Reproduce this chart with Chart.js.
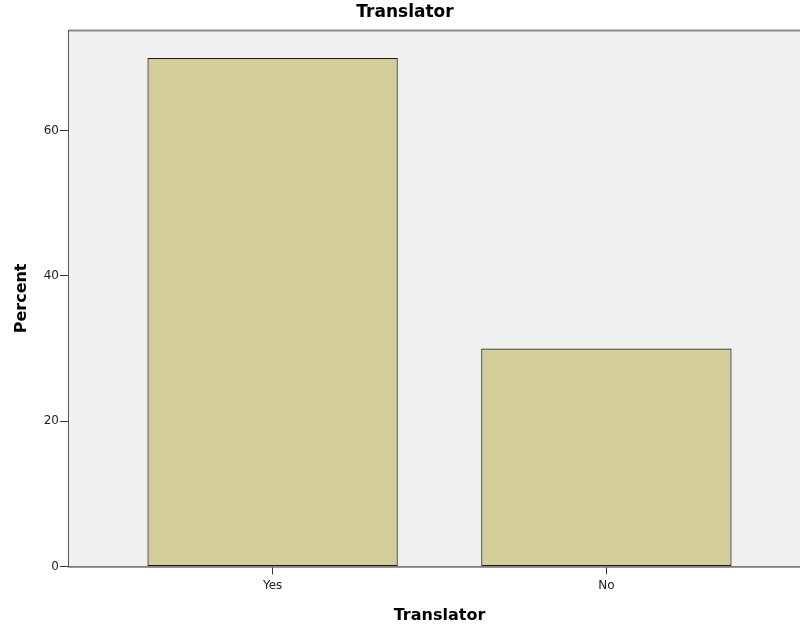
<!DOCTYPE html>
<html>
<head>
<meta charset="utf-8">
<script src="https://cdn.jsdelivr.net/npm/chart.js@4/dist/chart.umd.min.js"></script>
<style>
  html, body { margin: 0; padding: 0; background: #fff; width: 800px; height: 632px; overflow: hidden; }
  #wrap { width: 810px; height: 632px; position: relative; }
</style>
</head>
<body>
<div id="wrap"><canvas id="chart"></canvas></div>
<script>
const categories = ["Yes", "No"];
const percents = [70, 30];
const yTicks = [0, 20, 40, 60];

// plot background + top frame like the SPSS chart
const plotFrame = {
  id: "plotFrame",
  beforeDatasetsDraw(chart) {
    const { ctx, chartArea: a } = chart;
    ctx.save();
    ctx.fillStyle = "#f0f0f0";
    ctx.fillRect(a.left, a.top, a.right - a.left, a.bottom - a.top);
    ctx.strokeStyle = "#8a8a8a";
    ctx.lineWidth = 2;
    ctx.beginPath();
    ctx.moveTo(a.left, a.top);
    ctx.lineTo(a.right, a.top);
    ctx.stroke();
    ctx.restore();
  },
};

new Chart(document.getElementById("chart"), {
  type: "bar",
  data: {
    datasets: [
      {
        data: categories.map((c, i) => ({ x: i + 1, y: percents[i] })),
        backgroundColor: "#d3ce97",
        borderColor: "#1e1e1e",
        borderWidth: 1.2,
        borderSkipped: false,
        barPercentage: 0.75,
        categoryPercentage: 1,
      },
    ],
  },
  options: {
    responsive: true,
    maintainAspectRatio: false,
    animation: false,
    layout: { padding: { left: 0, right: 0, top: 0, bottom: 0 } },
    plugins: {
      legend: { display: false },
      tooltip: { enabled: false },
      title: {
        display: true,
        text: "Translator",
        color: "#000",
        font: { family: "DejaVu Sans", size: 17, weight: "bold" },
        padding: { top: 2, bottom: 8 },
      },
    },
    scales: {
      x: {
        type: "linear",
        min: 0.39,
        max: 2.61,
        offset: false,
        afterBuildTicks: (s) => {
          s.ticks = categories.map((c, i) => ({ value: i + 1 }));
        },
        ticks: {
          callback: (v) => categories[v - 1] || "",
          color: "#222",
          font: { family: "DejaVu Sans", size: 12 },
          padding: 4,
          maxRotation: 0,
        },
        grid: { offset: false, drawOnChartArea: false, drawTicks: true, tickLength: 8, color: "#333" },
        border: { display: true, color: "#333", width: 1.5 },
        title: {
          display: true,
          text: "Translator",
          color: "#000",
          font: { family: "DejaVu Sans", size: 16, weight: "bold" },
          padding: { top: 9, bottom: 7 },
        },
      },
      y: {
        min: 0,
        max: 73.8,
        afterBuildTicks: (s) => {
          s.ticks = yTicks.map((v) => ({ value: v }));
        },
        afterFit: (s) => {
          s.width = 69;
        },
        ticks: {
          color: "#222",
          font: { family: "DejaVu Sans", size: 12 },
          padding: 1,
        },
        grid: { drawOnChartArea: false, drawTicks: true, tickLength: 9, color: "#333" },
        border: { display: true, color: "#555", width: 1.5 },
        title: {
          display: true,
          text: "Percent",
          color: "#000",
          font: { family: "DejaVu Sans", size: 16, weight: "bold" },
          padding: { top: 12, bottom: 0 },
        },
      },
    },
  },
  plugins: [plotFrame],
});
</script>
</body>
</html>
